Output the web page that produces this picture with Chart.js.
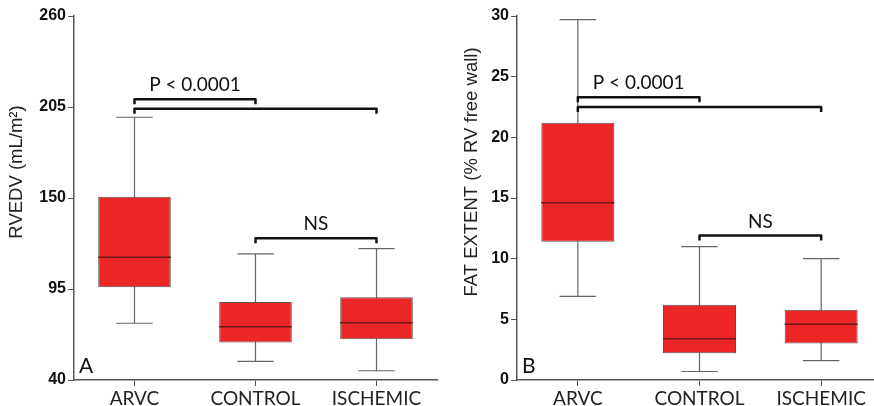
<!DOCTYPE html>
<html>
<head>
<meta charset="utf-8">
<script src="https://cdn.jsdelivr.net/npm/chart.js@4.4.1/dist/chart.umd.min.js"></script>
<style>
  html, body { margin: 0; padding: 0; background: #fff; overflow: hidden; }
  #wrap { position: relative; width: 874px; height: 406px; overflow: hidden; }
  canvas { position: absolute; top: 0; }
</style>
</head>
<body>
<div id="wrap">
  <canvas id="chartA" width="440" height="406" style="left:0"></canvas>
  <canvas id="chartB" width="445" height="406" style="left:440px"></canvas>
</div>
<script>
// Data
const categories = ['ARVC', 'CONTROL', 'ISCHEMIC'];

const rvMin = [74.3, 51.3, 45.6];
const rvQ1 = [96.0, 62.6, 64.6];
const rvMed = [114.2, 72.2, 74.6];
const rvQ3 = [150.8, 87.1, 90.0];
const rvMax = [198.8, 116.2, 119.4];
const rvTicks = [40, 95, 150, 205, 260];

const fatMin = [6.9, 0.7, 1.6];
const fatQ1 = [11.4, 2.2, 3.0];
const fatMed = [14.6, 3.4, 4.6];
const fatQ3 = [21.2, 6.2, 5.8];
const fatMax = [29.7, 11.0, 10.0];
const fatTicks = [0, 5, 10, 15, 20, 25, 30];

// significance brackets: from category, to category, level, label
const bracketFrom = [0, 0, 1];
const bracketTo = [1, 2, 2];
const bracketLabels = ['P < 0.0001', '', 'NS'];
const rvBracketY = [209.7, 204.0, 125.6];
const fatBracketY = [23.3, 22.5, 11.9];

const BOX_RED = '#ec2526';
const AXIS_GREY = '#555';

// whiskers, medians, brackets, panel letter, axis title
const boxExtras = {
    id: 'boxExtras',
    beforeDatasetsDraw(chart, args, opts) {
        const ctx = chart.ctx;
        const y = chart.scales.y;
        const meta = chart.getDatasetMeta(0);
        ctx.save();
        ctx.strokeStyle = '#666';
        ctx.lineWidth = 1.2;
        meta.data.forEach((bar, i) => {
            const capHalf = bar.width / 4;
            const yMin = y.getPixelForValue(opts.min[i]);
            const yMax = y.getPixelForValue(opts.max[i]);
            ctx.beginPath();
            ctx.moveTo(bar.x, yMin);
            ctx.lineTo(bar.x, yMax);
            ctx.moveTo(bar.x - capHalf, yMin);
            ctx.lineTo(bar.x + capHalf, yMin);
            ctx.moveTo(bar.x - capHalf, yMax);
            ctx.lineTo(bar.x + capHalf, yMax);
            ctx.stroke();
        });
        ctx.restore();
    },
    afterDatasetsDraw(chart, args, opts) {
        const ctx = chart.ctx;
        const x = chart.scales.x;
        const y = chart.scales.y;
        const area = chart.chartArea;
        const meta = chart.getDatasetMeta(0);
        ctx.save();

        // medians
        ctx.strokeStyle = '#6b1515';
        ctx.lineWidth = 1.5;
        meta.data.forEach((bar, i) => {
            const ym = y.getPixelForValue(opts.med[i]);
            ctx.beginPath();
            ctx.moveTo(bar.x - bar.width / 2, ym);
            ctx.lineTo(bar.x + bar.width / 2, ym);
            ctx.stroke();
        });

        // brackets
        ctx.strokeStyle = '#111';
        ctx.lineWidth = 2.5;
        ctx.lineJoin = 'round';
        ctx.fillStyle = '#111';
        ctx.font = '19px Lato, "Open Sans", sans-serif';
        ctx.textAlign = 'center';
        ctx.textBaseline = 'middle';
        bracketFrom.forEach((from, i) => {
            const x1 = x.getPixelForValue(from);
            const x2 = x.getPixelForValue(bracketTo[i]);
            const yb = y.getPixelForValue(opts.brackets[i]);
            ctx.beginPath();
            ctx.moveTo(x1, yb + 5);
            ctx.lineTo(x1, yb);
            ctx.lineTo(x2, yb);
            ctx.lineTo(x2, yb + 5);
            ctx.stroke();
            if (bracketLabels[i]) {
                ctx.fillText(bracketLabels[i], (x1 + x2) / 2, yb - 14);
            }
        });

        // panel letter
        ctx.font = '21px Lato, "Open Sans", sans-serif';
        ctx.textAlign = 'left';
        ctx.textBaseline = 'alphabetic';
        ctx.fillText(opts.letter, area.left + 5, area.bottom - 7);

        // y axis title, sits a bit above the middle of the axis
        ctx.fillStyle = '#222';
        ctx.font = '18.5px "Liberation Sans", Arial, sans-serif';
        ctx.textAlign = 'center';
        ctx.textBaseline = 'middle';
        ctx.translate(opts.titleX, (area.top + area.bottom) / 2 - 26);
        ctx.rotate(-Math.PI / 2);
        ctx.fillText(opts.title, 0, 0);
        ctx.restore();
    }
};

const makeChart = (id, cfg) => {
    const ctx = document.getElementById(id).getContext('2d');
    return new Chart(ctx, {
        type: 'bar',
        data: {
            labels: categories,
            datasets: [{
                data: cfg.q1.map((v, i) => [v, cfg.q3[i]]),
                backgroundColor: BOX_RED,
                borderColor: AXIS_GREY,
                borderWidth: 1,
                borderSkipped: false,
                categoryPercentage: 1,
                barPercentage: 0.6
            }]
        },
        plugins: [boxExtras],
        options: {
            responsive: false,
            animation: false,
            layout: { padding: { top: 16, right: 3, left: 0, bottom: 0 } },
            plugins: {
                legend: { display: false },
                tooltip: { enabled: false },
                boxExtras: {
                    min: cfg.min,
                    med: cfg.med,
                    max: cfg.max,
                    brackets: cfg.brackets,
                    letter: cfg.letter,
                    title: cfg.title,
                    titleX: cfg.titleX
                }
            },
            scales: {
                x: {
                    afterFit: (s) => { s.height = 26; },
                    grid: {
                        display: true,
                        offset: false,
                        drawOnChartArea: false,
                        drawTicks: true,
                        tickLength: 6,
                        color: AXIS_GREY
                    },
                    border: { display: true, color: AXIS_GREY, width: 1.5 },
                    ticks: {
                        color: '#222',
                        padding: 1,
                        font: { family: 'Lato, "Open Sans", sans-serif', size: 19 }
                    }
                },
                y: {
                    min: cfg.ticks[0],
                    max: cfg.ticks[cfg.ticks.length - 1],
                    afterFit: (s) => { s.width = cfg.axisWidth; },
                    afterBuildTicks: (s) => { s.ticks = cfg.ticks.map(v => ({ value: v })); },
                    grid: {
                        display: true,
                        drawOnChartArea: false,
                        drawTicks: true,
                        tickLength: 6,
                        color: AXIS_GREY
                    },
                    border: { display: true, color: AXIS_GREY, width: 1.5 },
                    ticks: {
                        color: '#111',
                        padding: 2,
                        font: { family: '"Liberation Sans", Arial, sans-serif', size: 16, weight: 'bold' }
                    }
                }
            }
        }
    });
};

makeChart('chartA', {
    q1: rvQ1, q3: rvQ3, min: rvMin, med: rvMed, max: rvMax,
    ticks: rvTicks, brackets: rvBracketY, letter: 'A',
    title: 'RVEDV (mL/m²)', axisWidth: 74, titleX: 17
});

makeChart('chartB', {
    q1: fatQ1, q3: fatQ3, min: fatMin, med: fatMed, max: fatMax,
    ticks: fatTicks, brackets: fatBracketY, letter: 'B',
    title: 'FAT EXTENT (% RV free wall)', axisWidth: 77, titleX: 32
});
</script>
</body>
</html>
